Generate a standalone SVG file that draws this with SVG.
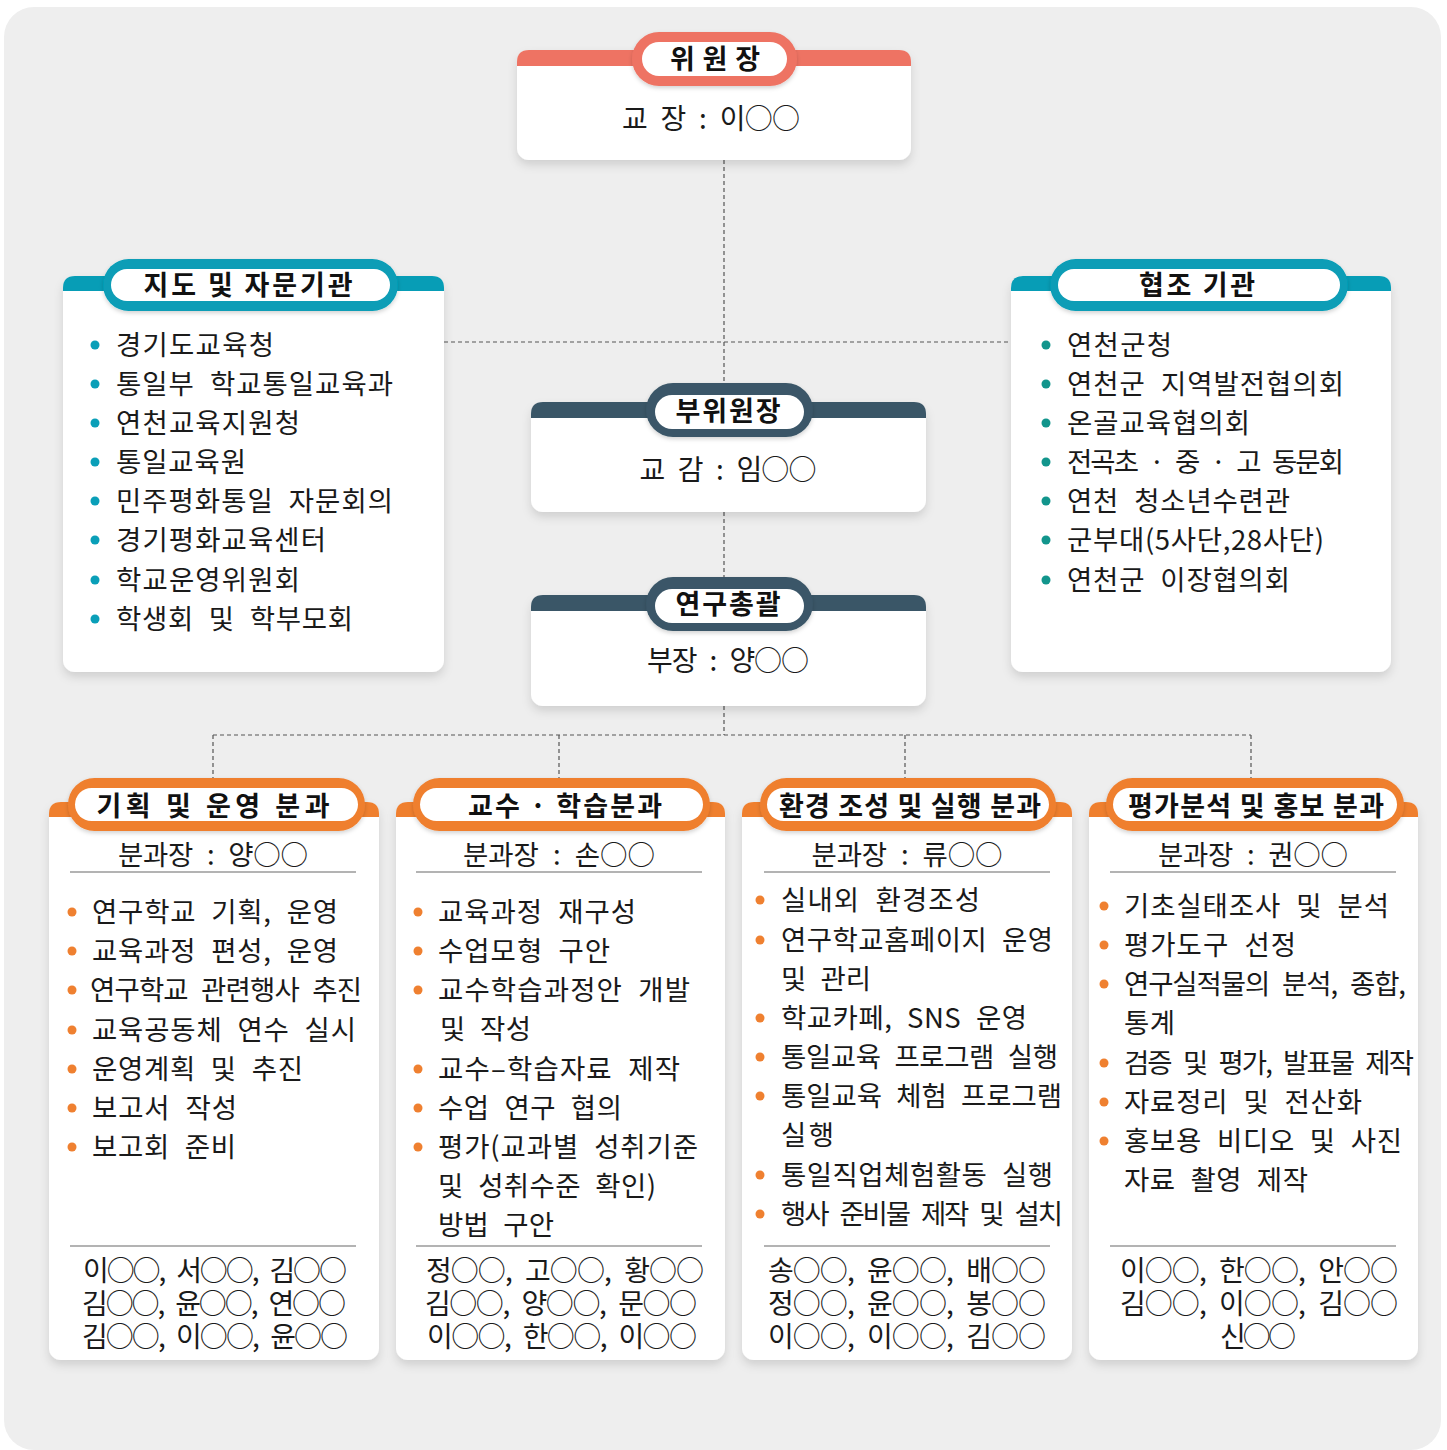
<svg xmlns="http://www.w3.org/2000/svg" width="1447" height="1450" viewBox="0 0 1447 1450">
<defs>
<filter id="sh" x="-10%" y="-10%" width="120%" height="125%">
<feDropShadow dx="0" dy="5" stdDeviation="5" flood-color="#000" flood-opacity="0.13"/>
</filter>
<filter id="psh" x="-10%" y="-20%" width="120%" height="150%">
<feDropShadow dx="0" dy="2" stdDeviation="2" flood-color="#000" flood-opacity="0.18"/>
</filter>
<style>
.bg{fill:#eeeeee}
.card{fill:#ffffff;filter:url(#sh)}
.salmon{fill:#ee7363}
.teal{fill:#079db6}
.slate{fill:#3a5667}
.orange{fill:#ef7f2e}
.inner{fill:#ffffff}
.t{font-family:"Noto Sans CJK KR","Noto Sans",sans-serif;font-size:27.5px;fill:#1a1a1a;word-spacing:8px}
.h{font-family:"Noto Sans CJK KR","Noto Sans",sans-serif;font-size:27px;font-weight:700;fill:#111;text-anchor:middle}
.m{text-anchor:middle}
.big{font-size:28px}
.conn{fill:none;stroke:#555;stroke-width:1.2;stroke-dasharray:4 3}
.rule{stroke:#9a9a9a;stroke-width:1.5}
.bt{fill:#0a9fb8}
.bg2{fill:#12958c}
.bo{fill:#ef8030}
</style>
</defs>
<rect x="0" y="0" width="1447" height="1450" fill="#ffffff"/>
<rect class="bg" x="4" y="7" width="1437" height="1443" rx="30"/>

<g id="connectors">
<path class="conn" d="M724,160 V383"/>
<path class="conn" d="M444,342 H1011"/>
<path class="conn" d="M724,512 V577"/>
<path class="conn" d="M724,706 V735"/>
<path class="conn" d="M213,735 H1251"/>
<path class="conn" d="M213,735 V779 M559,735 V779 M905,735 V779 M1251,735 V779"/>
</g>

<g id="node-chair">
<rect class="card" x="517" y="50" width="394" height="110" rx="12"/>
<path class="salmon" d="M517,66 V62 Q517,50 529,50 H899 Q911,50 911,62 V66 Z"/>
<g filter="url(#psh)"><rect class="salmon" x="632" y="32" width="165" height="54" rx="27"/></g>
<rect class="inner" x="642" y="42" width="145" height="34" rx="17"/>
<text class="h" x="715" y="69" textLength="90">위 원 장</text>
<text class="t m big" x="711" y="129" textLength="178">교 장 : 이○○</text>
</g>

<g id="node-advisory">
<rect class="card" x="63" y="276" width="381" height="396" rx="12"/>
<path class="teal" d="M63,291 V288 Q63,276 75,276 H432 Q444,276 444,288 V291 Z"/>
<g filter="url(#psh)"><rect class="teal" x="103" y="259" width="295" height="52" rx="26"/></g>
<rect class="inner" x="111" y="269" width="279" height="32" rx="16"/>
<text class="h" x="248" y="295" textLength="209">지도  및  자문기관</text>
<g class="bt">
<circle cx="95" cy="345" r="4.5"/><circle cx="95" cy="384" r="4.5"/><circle cx="95" cy="423" r="4.5"/><circle cx="95" cy="462" r="4.5"/>
<circle cx="95" cy="501" r="4.5"/><circle cx="95" cy="540" r="4.5"/><circle cx="95" cy="580" r="4.5"/><circle cx="95" cy="619" r="4.5"/>
</g>
<text class="t" x="116" y="355" textLength="158">경기도교육청</text>
<text class="t" x="116" y="394" textLength="277">통일부 학교통일교육과</text>
<text class="t" x="116" y="433" textLength="184">연천교육지원청</text>
<text class="t" x="116" y="472" textLength="130">통일교육원</text>
<text class="t" x="116" y="511" textLength="277">민주평화통일 자문회의</text>
<text class="t" x="116" y="550" textLength="210">경기평화교육센터</text>
<text class="t" x="116" y="590" textLength="184">학교운영위원회</text>
<text class="t" x="116" y="629" textLength="237">학생회 및 학부모회</text>
</g>

<g id="node-cooperation">
<rect class="card" x="1011" y="276" width="380" height="396" rx="12"/>
<path class="teal" d="M1011,291 V288 Q1011,276 1023,276 H1379 Q1391,276 1391,288 V291 Z"/>
<g filter="url(#psh)"><rect class="teal" x="1050" y="259" width="298" height="52" rx="26"/></g>
<rect class="inner" x="1058" y="269" width="282" height="32" rx="16"/>
<text class="h" x="1197" y="295" textLength="116">협조  기관</text>
<g class="bg2">
<circle cx="1046" cy="345" r="4.5"/><circle cx="1046" cy="384" r="4.5"/><circle cx="1046" cy="423" r="4.5"/><circle cx="1046" cy="462" r="4.5"/>
<circle cx="1046" cy="501" r="4.5"/><circle cx="1046" cy="540" r="4.5"/><circle cx="1046" cy="580" r="4.5"/>
</g>
<text class="t" x="1067" y="355" textLength="105">연천군청</text>
<text class="t" x="1067" y="394" textLength="277">연천군 지역발전협의회</text>
<text class="t" x="1067" y="433" textLength="183">온골교육협의회</text>
<text class="t" x="1067" y="472" textLength="277">전곡초 · 중 · 고 동문회</text>
<text class="t" x="1067" y="511" textLength="223">연천 청소년수련관</text>
<text class="t" x="1067" y="550" textLength="257">군부대(5사단,28사단)</text>
<text class="t" x="1067" y="590" textLength="223">연천군 이장협의회</text>
</g>

<g id="node-vicechair">
<rect class="card" x="531" y="402" width="395" height="110" rx="12"/>
<path class="slate" d="M531,418 V414 Q531,402 543,402 H914 Q926,402 926,414 V418 Z"/>
<g filter="url(#psh)"><rect class="slate" x="646" y="383" width="167" height="54" rx="27"/></g>
<rect class="inner" x="655" y="395" width="149" height="34" rx="17"/>
<text class="h" x="728" y="421" textLength="105">부위원장</text>
<text class="t m big" x="728" y="480" textLength="177">교 감 : 임○○</text>
</g>

<g id="node-research">
<rect class="card" x="531" y="595" width="395" height="111" rx="12"/>
<path class="slate" d="M531,611 V607 Q531,595 543,595 H914 Q926,595 926,607 V611 Z"/>
<g filter="url(#psh)"><rect class="slate" x="646" y="577" width="167" height="54" rx="27"/></g>
<rect class="inner" x="655" y="589" width="149" height="34" rx="17"/>
<text class="h" x="728" y="614" textLength="105">연구총괄</text>
<text class="t m big" x="728" y="671" textLength="162">부장 : 양○○</text>
</g>

<g id="node-planning">
<rect class="card" x="49" y="802" width="330" height="558" rx="12"/>
<path class="orange" d="M49,817 V814 Q49,802 61,802 H367 Q379,802 379,814 V817 Z"/>
<g filter="url(#psh)"><rect class="orange" x="68" y="778" width="297" height="53" rx="26.5"/></g>
<rect class="inner" x="75" y="788" width="283" height="33" rx="16.5"/>
<text class="h" x="213" y="816" textLength="233">기획  및  운영  분과</text>
<text class="t m" x="213" y="865" textLength="190">분과장 : 양○○</text>
<line class="rule" x1="70" y1="872" x2="356" y2="872"/>
<g class="bo">
<circle cx="72" cy="912" r="4.5"/><circle cx="72" cy="951" r="4.5"/><circle cx="72" cy="990" r="4.5"/><circle cx="72" cy="1030" r="4.5"/>
<circle cx="72" cy="1069" r="4.5"/><circle cx="72" cy="1108" r="4.5"/><circle cx="72" cy="1147" r="4.5"/>
</g>
<text class="t" x="92" y="922" textLength="246">연구학교 기획, 운영</text>
<text class="t" x="92" y="961" textLength="246">교육과정 편성, 운영</text>
<text class="t" x="90" y="1000" textLength="272">연구학교 관련행사 추진</text>
<text class="t" x="92" y="1040" textLength="264">교육공동체 연수 실시</text>
<text class="t" x="92" y="1079" textLength="211">운영계획 및 추진</text>
<text class="t" x="92" y="1118" textLength="145">보고서 작성</text>
<text class="t" x="92" y="1157" textLength="144">보고회 준비</text>
<line class="rule" x1="70" y1="1246" x2="356" y2="1246"/>
<text class="t m big" x="215" y="1281" textLength="264">이○○, 서○○, 김○○</text>
<text class="t m big" x="214" y="1314" textLength="264">김○○, 윤○○, 연○○</text>
<text class="t m big" x="215" y="1347" textLength="266">김○○, 이○○, 윤○○</text>
</g>

<g id="node-teaching">
<rect class="card" x="396" y="802" width="329" height="558" rx="12"/>
<path class="orange" d="M396,817 V814 Q396,802 408,802 H713 Q725,802 725,814 V817 Z"/>
<g filter="url(#psh)"><rect class="orange" x="413" y="778" width="297" height="53" rx="26.5"/></g>
<rect class="inner" x="420" y="788" width="283" height="33" rx="16.5"/>
<text class="h" x="565" y="816" textLength="194">교수 · 학습분과</text>
<text class="t m" x="559" y="865" textLength="192">분과장 : 손○○</text>
<line class="rule" x1="416" y1="872" x2="702" y2="872"/>
<g class="bo">
<circle cx="418" cy="912" r="4.5"/><circle cx="418" cy="951" r="4.5"/><circle cx="418" cy="990" r="4.5"/>
<circle cx="418" cy="1069" r="4.5"/><circle cx="418" cy="1108" r="4.5"/><circle cx="418" cy="1147" r="4.5"/>
</g>
<text class="t" x="438" y="922" textLength="198">교육과정 재구성</text>
<text class="t" x="438" y="961" textLength="172">수업모형 구안</text>
<text class="t" x="438" y="1000" textLength="252">교수학습과정안 개발</text>
<text class="t" x="440" y="1039" textLength="91">및 작성</text>
<text class="t" x="438" y="1079" textLength="242">교수–학습자료 제작</text>
<text class="t" x="438" y="1118" textLength="184">수업 연구 협의</text>
<text class="t" x="438" y="1157" textLength="260">평가(교과별 성취기준</text>
<text class="t" x="438" y="1196" textLength="218">및 성취수준 확인)</text>
<text class="t" x="438" y="1235" textLength="116">방법 구안</text>
<line class="rule" x1="416" y1="1246" x2="702" y2="1246"/>
<text class="t m big" x="565" y="1281" textLength="278">정○○, 고○○, 황○○</text>
<text class="t m big" x="561" y="1314" textLength="272">김○○, 양○○, 문○○</text>
<text class="t m big" x="562" y="1347" textLength="270">이○○, 한○○, 이○○</text>
</g>

<g id="node-environment">
<rect class="card" x="742" y="802" width="330" height="558" rx="12"/>
<path class="orange" d="M742,817 V814 Q742,802 754,802 H1060 Q1072,802 1072,814 V817 Z"/>
<g filter="url(#psh)"><rect class="orange" x="760" y="778" width="296" height="53" rx="26.5"/></g>
<rect class="inner" x="767" y="788" width="282" height="33" rx="16.5"/>
<text class="h" x="910" y="816" textLength="262" style="word-spacing:0">환경 조성 및 실행 분과</text>
<text class="t m" x="907" y="865" textLength="191">분과장 : 류○○</text>
<line class="rule" x1="764" y1="872" x2="1050" y2="872"/>
<g class="bo">
<circle cx="760" cy="900" r="4.5"/><circle cx="760" cy="940" r="4.5"/><circle cx="760" cy="1018" r="4.5"/>
<circle cx="760" cy="1057" r="4.5"/><circle cx="760" cy="1096" r="4.5"/><circle cx="760" cy="1175" r="4.5"/><circle cx="760" cy="1214" r="4.5"/>
</g>
<text class="t" x="781" y="910" textLength="199">실내외 환경조성</text>
<text class="t" x="781" y="950" textLength="272">연구학교홈페이지 운영</text>
<text class="t" x="781" y="989" textLength="90">및 관리</text>
<text class="t" x="781" y="1028" textLength="246">학교카페, SNS 운영</text>
<text class="t" x="781" y="1067" textLength="277">통일교육 프로그램 실행</text>
<text class="t" x="781" y="1106" textLength="281">통일교육 체험 프로그램</text>
<text class="t" x="781" y="1145" textLength="53">실행</text>
<text class="t" x="781" y="1185" textLength="272">통일직업체험활동 실행</text>
<text class="t" x="781" y="1224" textLength="282">행사 준비물 제작 및 설치</text>
<line class="rule" x1="764" y1="1246" x2="1050" y2="1246"/>
<text class="t m big" x="907" y="1281" textLength="278">송○○, 윤○○, 배○○</text>
<text class="t m big" x="907" y="1314" textLength="278">정○○, 윤○○, 봉○○</text>
<text class="t m big" x="907" y="1347" textLength="278">이○○, 이○○, 김○○</text>
</g>

<g id="node-evaluation">
<rect class="card" x="1089" y="802" width="329" height="558" rx="12"/>
<path class="orange" d="M1089,817 V814 Q1089,802 1101,802 H1406 Q1418,802 1418,814 V817 Z"/>
<g filter="url(#psh)"><rect class="orange" x="1106" y="778" width="298" height="53" rx="26.5"/></g>
<rect class="inner" x="1113" y="788" width="284" height="33" rx="16.5"/>
<text class="h" x="1256" y="816" textLength="256" style="word-spacing:0">평가분석 및 홍보 분과</text>
<text class="t m" x="1253" y="865" textLength="190">분과장 : 권○○</text>
<line class="rule" x1="1110" y1="872" x2="1396" y2="872"/>
<g class="bo">
<circle cx="1104" cy="906" r="4.5"/><circle cx="1104" cy="945" r="4.5"/><circle cx="1104" cy="984" r="4.5"/>
<circle cx="1104" cy="1063" r="4.5"/><circle cx="1104" cy="1102" r="4.5"/><circle cx="1104" cy="1141" r="4.5"/>
</g>
<text class="t" x="1124" y="916" textLength="265">기초실태조사 및 분석</text>
<text class="t" x="1124" y="955" textLength="172">평가도구 선정</text>
<text class="t" x="1124" y="994" textLength="282">연구실적물의 분석, 종합,</text>
<text class="t" x="1124" y="1033" textLength="51">통계</text>
<text class="t" x="1124" y="1073" textLength="290">검증 및 평가, 발표물 제작</text>
<text class="t" x="1124" y="1112" textLength="238">자료정리 및 전산화</text>
<text class="t" x="1124" y="1151" textLength="278">홍보용 비디오 및 사진</text>
<text class="t" x="1124" y="1190" textLength="184">자료 촬영 제작</text>
<line class="rule" x1="1110" y1="1246" x2="1396" y2="1246"/>
<text class="t m big" x="1259" y="1281" textLength="278">이○○, 한○○, 안○○</text>
<text class="t m big" x="1259" y="1314" textLength="278">김○○, 이○○, 김○○</text>
<text class="t m big" x="1258" y="1347" textLength="76">신○○</text>
</g>
</svg>
